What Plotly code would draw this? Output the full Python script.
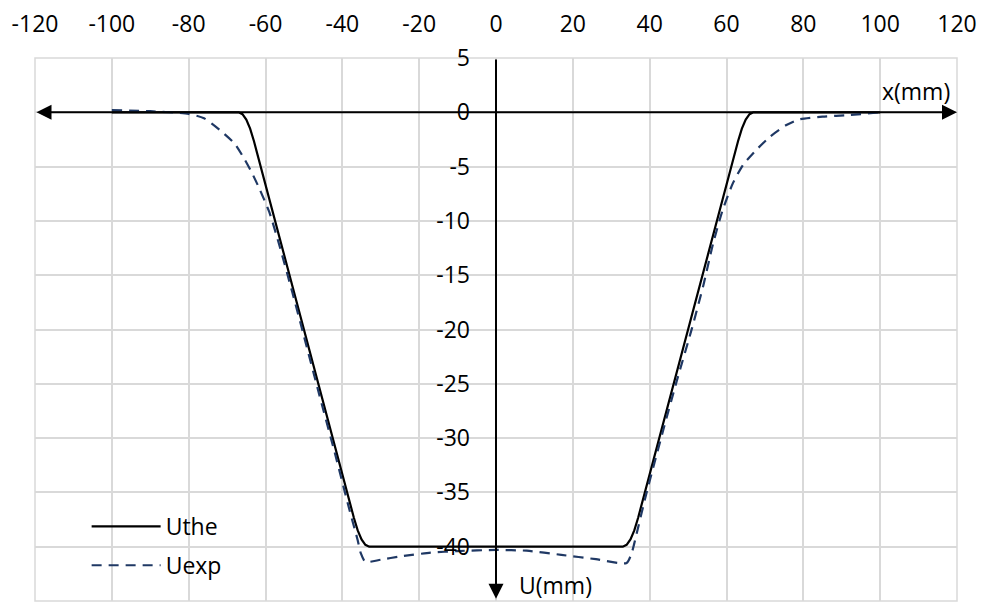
import plotly.graph_objects as go

# ---- data ----
x_tick_vals = [-120, -100, -80, -60, -40, -20, 0, 20, 40, 60, 80, 100, 120]
x_tick_text = ["-120", "-100", "-80", "-60", "-40", "-20", "0", "20", "40", "60", "80", "100", "120"]
y_tick_vals = [5, 0, -5, -10, -15, -20, -25, -30, -35, -40, -45]
y_tick_text = ["5", "0", "-5", "-10", "-15", "-20", "-25", "-30", "-35", "-40", "-45"]

uthe_x = [-100, -67, -66, -65, -64, -63, -37, -36, -35, -34, -33,
          33, 34, 35, 36, 37, 63, 64, 65, 66, 67, 100]
uthe_y = [0, 0, -0.17, -0.67, -1.5, -2.67, -37.33, -38.5, -39.33, -39.83, -40,
          -40, -39.83, -39.33, -38.5, -37.33, -2.67, -1.5, -0.67, -0.17, 0, 0]

uexp_x = [-100, -90, -80, -76, -72, -68, -65.5, -63.5, -61.5, -59, -56.5, -53, -50,
          -46, -42, -38, -36, -35.2, -34, -30, -25, -17, -10, 0, 8, 17, 26, 34,
          35.3, 36.6, 39, 43.5, 47, 51, 54, 56.5, 59, 61.7, 64.3, 67.8, 71.3, 75.6,
          79, 85, 92, 100]
uexp_y = [0.2, 0.1, -0.15, -0.55, -1.6, -2.9, -4.3, -5.6, -7.1, -9.2, -12.1, -16.6, -20.6,
          -26.0, -31.3, -36.8, -39.4, -40.6, -41.4, -41.2, -40.9, -40.55, -40.4, -40.3,
          -40.37, -40.75, -41.15, -41.5, -40.6, -38.8, -35.3, -29.3, -24.8, -19.9, -15.9,
          -12.1, -9.0, -6.5, -4.85, -3.45, -2.25, -1.17, -0.65, -0.4, -0.25, 0.0]

FONT = "Open Sans"
FS = 23
GRID = "#d9d9d9"

fig = go.Figure()
fig.add_trace(go.Scatter(x=uthe_x, y=uthe_y, mode="lines", name="Uthe",
                         line=dict(color="black", width=2.2), legendgroup="a"))
fig.add_trace(go.Scatter(x=uexp_x, y=uexp_y, mode="lines", name="Uexp",
                         line=dict(color="#1f3864", width=2.2, dash="10px,7px",
                                   shape="spline", smoothing=0.6),
                         legendgroup="b"))

fig.update_layout(
    width=981, height=614,
    margin=dict(l=34.5, r=24, t=58, b=13, autoexpand=False),
    paper_bgcolor="white", plot_bgcolor="white",
    font=dict(family=FONT, size=FS, color="black"),
    showlegend=True,
    legend=dict(x=0.056, y=0.026, xanchor="left", yanchor="bottom",
                bgcolor="rgba(0,0,0,0)", itemwidth=69, tracegroupgap=6,
                traceorder="grouped", font=dict(family=FONT, size=FS)),
    xaxis=dict(range=[-120, 120], tickvals=x_tick_vals, ticktext=x_tick_text, side="top",
               showgrid=True, gridcolor=GRID, gridwidth=1.5, zeroline=False,
               showline=False, ticks="", ticklabelstandoff=20, anchor="y",
               automargin=False),
    yaxis=dict(range=[-45, 5], tickvals=y_tick_vals, ticktext=y_tick_text,
               anchor="free", position=0.5,
               showgrid=True, gridcolor=GRID, gridwidth=1.5, zeroline=False,
               showline=False, ticks="", ticklabelstandoff=26, automargin=False),
    shapes=[dict(type="rect", xref="paper", yref="paper", x0=0, x1=1, y0=0, y1=1,
                 line=dict(color=GRID, width=1.5), layer="below")],
    annotations=[
        dict(x=120, y=0, ax=-120, ay=0, xref="x", yref="y", axref="x", ayref="y",
             text="", showarrow=True, arrowhead=2, startarrowhead=2,
             arrowside="end+start", arrowsize=1.5, startarrowsize=1.5,
             arrowwidth=2, arrowcolor="black"),
        dict(x=0, y=-44.8, ax=0, ay=5, xref="x", yref="y", axref="x", ayref="y",
             text="", showarrow=True, arrowhead=2, arrowsize=1.5,
             arrowwidth=2, arrowcolor="black"),
        dict(x=100, y=2, xref="x", yref="y", text="x(mm)", showarrow=False,
             xanchor="left", yanchor="middle", font=dict(family=FONT, size=FS)),
        dict(x=5.5, y=-43.5, xref="x", yref="y", text="U(mm)", showarrow=False,
             xanchor="left", yanchor="middle", font=dict(family=FONT, size=FS)),
    ],
)

fig.write_html("out.html", config={"displayModeBar": False},
               post_script="document.body.style.margin='0';document.body.style.overflow='hidden';")
